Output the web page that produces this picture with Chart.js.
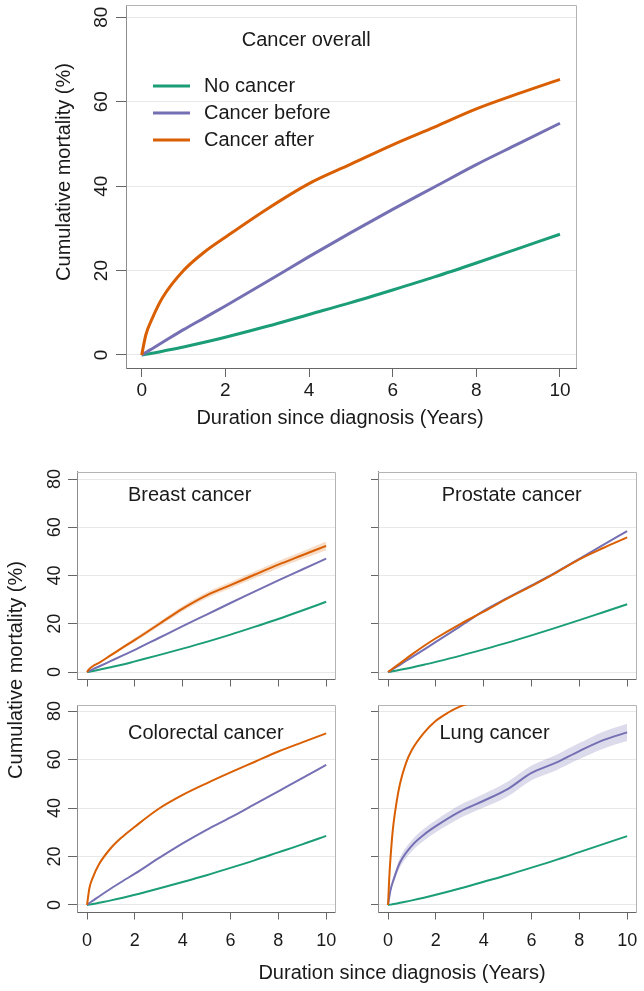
<!DOCTYPE html>
<html>
<head>
<meta charset="utf-8">
<script src="https://cdn.jsdelivr.net/npm/chart.js@4.4.0/dist/chart.umd.min.js"></script>
<style>
html,body{margin:0;padding:0;background:#fff;}
#wrap{position:relative;width:644px;height:991px;overflow:hidden;background:#fff;}
#wrap canvas{position:absolute;left:0;top:0;}
</style>
</head>
<body>
<div id="wrap">
<canvas id="cOverall" width="644" height="991"></canvas>
<canvas id="cBreast" width="644" height="991"></canvas>
<canvas id="cProstate" width="644" height="991"></canvas>
<canvas id="cColorectal" width="644" height="991"></canvas>
<canvas id="cLung" width="644" height="991"></canvas>
</div>
<script>
// ---------- data ----------
const xTickValues = [0, 2, 4, 6, 8, 10];
const yTickValues = [0, 20, 40, 60, 80];
const seriesNames = ['No cancer', 'Cancer before', 'Cancer after'];

const years = [0, 0.1, 0.25, 0.5, 1, 1.5, 2, 3, 4, 5, 6, 7, 8, 9, 10];

const overallNoCancer = [0, 0.15, 0.4, 0.9, 1.9, 3.0, 4.2, 6.8, 9.6, 12.4, 15.4, 18.5, 21.8, 25.2, 28.6];
const overallBefore   = [0, 0.6, 1.5, 3.0, 6.0, 8.8, 11.6, 17.4, 23.3, 29.0, 34.5, 39.8, 45.1, 50.0, 54.9];
const overallAfter    = [0, 4.8, 8.6, 13.6, 20.0, 24.4, 27.9, 34.6, 40.6, 45.2, 49.8, 54.0, 58.3, 61.9, 65.3];

const breastNoCancer  = [0, 0.15, 0.4, 0.9, 2.0, 3.1, 4.4, 7.0, 9.7, 12.5, 15.5, 18.7, 22.0, 25.5, 29.1];
const breastBefore    = [0, 0.5, 1.2, 2.3, 4.6, 6.9, 9.2, 14.1, 19.0, 23.8, 28.6, 33.3, 38.0, 42.5, 47.0];
const breastAfter     = [0, 1.3, 2.5, 3.8, 7.0, 10.2, 13.3, 19.8, 26.3, 31.8, 36.0, 40.3, 44.5, 48.4, 52.3];
const breastAfterHi   = [0, 1.5, 2.8, 4.2, 7.6, 10.9, 14.1, 20.7, 27.4, 33.0, 37.3, 41.7, 46.0, 50.0, 54.1];
const breastAfterLo   = [0, 1.1, 2.2, 3.4, 6.4, 9.5, 12.5, 18.9, 25.2, 30.6, 34.7, 38.9, 43.0, 46.8, 50.5];

const prostateNoCancer = [0, 0.15, 0.4, 0.9, 1.9, 3.0, 4.2, 6.7, 9.4, 12.2, 15.2, 18.3, 21.5, 24.8, 28.1];
const prostateBefore   = [0, 0.6, 1.5, 3.0, 6.2, 9.3, 12.5, 18.8, 25.3, 30.7, 35.9, 41.2, 46.9, 52.7, 58.4];
const prostateAfter    = [0, 0.7, 1.8, 3.6, 7.3, 10.8, 14.0, 19.8, 25.0, 30.5, 35.6, 41.0, 46.7, 51.4, 55.8];

const colorectalNoCancer = [0, 0.15, 0.4, 0.9, 1.9, 3.0, 4.2, 6.8, 9.5, 12.3, 15.3, 18.4, 21.7, 25.0, 28.5];
const colorectalBefore   = [0, 0.8, 1.8, 3.5, 6.8, 9.9, 12.9, 19.3, 25.4, 31.0, 36.1, 41.5, 46.9, 52.3, 57.8];
const colorectalAfter    = [0, 7.0, 11.5, 16.8, 23.5, 28.3, 32.3, 39.7, 45.4, 50.2, 54.7, 59.0, 63.3, 67.1, 70.8];

const lungNoCancer = [0, 0.15, 0.4, 0.9, 1.9, 3.0, 4.2, 6.8, 9.6, 12.4, 15.4, 18.5, 21.8, 25.1, 28.4];
const lungBefore   = [0, 6.0, 11.0, 17.5, 24.5, 29.0, 32.5, 38.5, 43.0, 47.8, 54.5, 58.6, 63.5, 68.0, 71.2];
const lungBeforeHi = [0, 7.0, 12.5, 19.5, 26.8, 31.5, 35.0, 41.2, 45.8, 50.8, 57.5, 61.8, 66.8, 71.5, 74.8];
const lungBeforeLo = [0, 5.0, 9.5, 15.5, 22.2, 26.5, 30.0, 35.8, 40.2, 44.8, 51.5, 55.4, 60.2, 64.5, 67.6];
const lungAfterYears = [0, 0.05, 0.1, 0.2, 0.35, 0.5, 0.75, 1, 1.5, 2, 2.5, 3, 3.5, 4];
const lungAfter      = [0, 11, 19, 31, 42, 50, 58.5, 64, 71, 76, 79.3, 81.8, 83.6, 85];

// ---------- styling ----------
const W = 644, H = 991;
const FONT = "'Liberation Sans', Arial, Helvetica, sans-serif";
const GREEN = '#1b9e77', PURPLE = '#7570b3', ORANGE = '#d95f02';
const TEXT = '#1a1a1a';

function pts(xs, ys) { return xs.map((x, i) => ({x: x, y: ys[i]})); }

function lineDs(label, xs, ys, color, width) {
  return {label: label, data: pts(xs, ys), borderColor: color, borderWidth: width,
          pointRadius: 0, fill: false, cubicInterpolationMode: 'monotone', clip: 0};
}
function bandDs(xs, lo, hi, rgba) {
  return [
    {label: 'lo', data: pts(xs, lo), borderWidth: 0, borderColor: 'rgba(0,0,0,0)', pointRadius: 0,
     fill: false, cubicInterpolationMode: 'monotone', clip: 0},
    {label: 'hi', data: pts(xs, hi), borderWidth: 0, borderColor: 'rgba(0,0,0,0)', pointRadius: 0,
     fill: '-1', backgroundColor: rgba, cubicInterpolationMode: 'monotone', clip: 0}
  ];
}

const decor = {
  id: 'decor',
  beforeDatasetsDraw(chart, args, o) {
    const ctx = chart.ctx, a = chart.chartArea;
    ctx.save();
    ctx.strokeStyle = '#b4b4b4';
    ctx.lineWidth = 1;
    ctx.beginPath();
    ctx.moveTo(Math.round(a.left), Math.round(a.top) + 0.5);
    ctx.lineTo(Math.round(a.right) + 0.5, Math.round(a.top) + 0.5);
    ctx.lineTo(Math.round(a.right) + 0.5, Math.round(a.bottom));
    ctx.stroke();
    ctx.restore();
  },
  afterDraw(chart, args, o) {
    const ctx = chart.ctx, a = chart.chartArea, ys = chart.scales.y;
    ctx.save();
    ctx.fillStyle = TEXT;
    if (o.yLabels) {
      ctx.font = o.tickSize + 'px ' + FONT;
      ctx.textAlign = 'center';
      ctx.textBaseline = 'middle';
      yTickValues.forEach(v => {
        ctx.save();
        ctx.translate(a.left - o.yLabelOffset, ys.getPixelForValue(v));
        ctx.rotate(-Math.PI / 2);
        ctx.fillText(String(v), 0, 0);
        ctx.restore();
      });
    }
    (o.texts || []).forEach(t => {
      ctx.save();
      ctx.font = (t.size || 20) + 'px ' + FONT;
      ctx.textAlign = t.align || 'left';
      ctx.textBaseline = 'middle';
      ctx.translate(t.x, t.y);
      if (t.rot) ctx.rotate(-Math.PI / 2);
      ctx.fillText(t.text, 0, 0);
      ctx.restore();
    });
    if (o.legend) {
      const L = o.legend;
      chart.data.datasets.filter(d => seriesNames.includes(d.label))
        .sort((p, q) => seriesNames.indexOf(p.label) - seriesNames.indexOf(q.label))
        .forEach((d, i) => {
          const y = L.ys[i];
          ctx.strokeStyle = d.borderColor;
          ctx.lineWidth = L.width;
          ctx.beginPath();
          ctx.moveTo(L.x1, y);
          ctx.lineTo(L.x2, y);
          ctx.stroke();
          ctx.font = '20px ' + FONT;
          ctx.textAlign = 'left';
          ctx.textBaseline = 'middle';
          ctx.fillStyle = TEXT;
          ctx.fillText(d.label, L.tx, y);
        });
    }
    ctx.restore();
  }
};

function build(id, s) {
  const a = s.area;
  const xScaleH = s.xLabels ? 50 : s.xTickLen + 1;
  return new Chart(document.getElementById(id), {
    type: 'line',
    data: {datasets: s.datasets},
    options: {
      responsive: false,
      animation: false,
      devicePixelRatio: 1,
      events: [],
      layout: {padding: {left: a.l - s.yTickLen, top: a.t, right: W - a.r, bottom: H - a.b - xScaleH}},
      plugins: {legend: {display: false}, tooltip: {enabled: false}, decor: s.decor},
      scales: {
        x: {
          type: 'linear', min: s.xMin, max: s.xMax,
          afterBuildTicks: sc => { sc.ticks = xTickValues.map(v => ({value: v})); },
          afterFit: sc => { sc.height = xScaleH; sc.paddingLeft = 0; sc.paddingRight = 0; },
          grid: {drawOnChartArea: false, drawTicks: true, tickLength: s.xTickLen, tickColor: '#666', tickWidth: 1},
          border: {display: true, color: '#666', width: 1},
          ticks: {display: s.xLabels, font: {family: FONT, size: s.tickSize}, color: TEXT,
                  padding: s.xLabelPad, maxRotation: 0, minRotation: 0, autoSkip: false}
        },
        y: {
          type: 'linear', min: s.yMin, max: s.yMax,
          afterBuildTicks: sc => { sc.ticks = yTickValues.map(v => ({value: v})); },
          afterFit: sc => { sc.width = s.yTickLen; sc.paddingTop = 0; sc.paddingBottom = 0; },
          grid: {color: '#e8e8e8', lineWidth: 1, drawTicks: true, tickLength: s.yTickLen, tickColor: '#666', tickWidth: 1},
          border: {display: true, color: '#8c8c8c', width: 1},
          ticks: {display: false}
        }
      }
    },
    plugins: [decor]
  });
}

// ---------- Cancer overall ----------
build('cOverall', {
  area: {l: 126, t: 5, r: 576, b: 368},
  xMin: -0.375, xMax: 10.383, yMin: -3.08, yMax: 82.91,
  yTickLen: 10, xTickLen: 9, xLabelPad: 2, xLabels: true, tickSize: 19,
  datasets: [
    lineDs('Cancer after', years, overallAfter, ORANGE, 3),
    lineDs('Cancer before', years, overallBefore, PURPLE, 3),
    lineDs('No cancer', years, overallNoCancer, GREEN, 3)
  ],
  decor: {
    yLabels: true, yLabelOffset: 24.3, tickSize: 19,
    texts: [
      {text: 'Cancer overall', x: 241.7, y: 40.7},
      {text: 'Duration since diagnosis (Years)', x: 340, y: 418, align: 'center'},
      {text: 'Cumulative mortality (%)', x: 64, y: 172, align: 'center', rot: true}
    ],
    legend: {x1: 153, x2: 190, tx: 204, ys: [86, 113, 140], width: 3}
  }
});

// ---------- Breast ----------
build('cBreast', {
  area: {l: 77, t: 471.7, r: 335, b: 679.5},
  xMin: -0.42, xMax: 10.37, yMin: -3.1, yMax: 83.03,
  yTickLen: 9, xTickLen: 7, xLabelPad: 11, xLabels: false, tickSize: 18,
  datasets: [
    lineDs('Cancer after', years, breastAfter, ORANGE, 2),
    lineDs('Cancer before', years, breastBefore, PURPLE, 2),
    lineDs('No cancer', years, breastNoCancer, GREEN, 2),
    ...bandDs(years, breastAfterLo, breastAfterHi, 'rgba(217,95,2,0.22)')
  ],
  decor: {
    yLabels: true, yLabelOffset: 22, tickSize: 18,
    texts: [
      {text: 'Breast cancer', x: 128, y: 495},
      {text: 'Cumulative mortality (%)', x: 16, y: 670, align: 'center', rot: true}
    ]
  }
});

// ---------- Prostate ----------
build('cProstate', {
  area: {l: 378, t: 471.7, r: 636, b: 679.5},
  xMin: -0.42, xMax: 10.37, yMin: -3.1, yMax: 83.03,
  yTickLen: 7, xTickLen: 7, xLabelPad: 11, xLabels: false, tickSize: 18,
  datasets: [
    lineDs('Cancer after', years, prostateAfter, ORANGE, 2),
    lineDs('Cancer before', years, prostateBefore, PURPLE, 2),
    lineDs('No cancer', years, prostateNoCancer, GREEN, 2)
  ],
  decor: {
    yLabels: false,
    texts: [{text: 'Prostate cancer', x: 441.7, y: 495}]
  }
});

// ---------- Colorectal ----------
build('cColorectal', {
  area: {l: 77, t: 705, r: 335, b: 912.5},
  xMin: -0.42, xMax: 10.37, yMin: -3.1, yMax: 82.5,
  yTickLen: 9, xTickLen: 7, xLabelPad: 11, xLabels: true, tickSize: 18,
  datasets: [
    lineDs('Cancer after', years, colorectalAfter, ORANGE, 2),
    lineDs('Cancer before', years, colorectalBefore, PURPLE, 2),
    lineDs('No cancer', years, colorectalNoCancer, GREEN, 2)
  ],
  decor: {
    yLabels: true, yLabelOffset: 22, tickSize: 18,
    texts: [{text: 'Colorectal cancer', x: 128, y: 733}]
  }
});

// ---------- Lung ----------
build('cLung', {
  area: {l: 378, t: 705, r: 636, b: 912.5},
  xMin: -0.42, xMax: 10.37, yMin: -3.1, yMax: 82.5,
  yTickLen: 7, xTickLen: 7, xLabelPad: 11, xLabels: true, tickSize: 18,
  datasets: [
    lineDs('Cancer after', lungAfterYears, lungAfter, ORANGE, 2),
    lineDs('Cancer before', years, lungBefore, PURPLE, 2),
    lineDs('No cancer', years, lungNoCancer, GREEN, 2),
    ...bandDs(years, lungBeforeLo, lungBeforeHi, 'rgba(117,112,179,0.25)')
  ],
  decor: {
    yLabels: false,
    texts: [
      {text: 'Lung cancer', x: 439.5, y: 733},
      {text: 'Duration since diagnosis (Years)', x: 402, y: 973, align: 'center'}
    ]
  }
});
</script>
</body>
</html>
